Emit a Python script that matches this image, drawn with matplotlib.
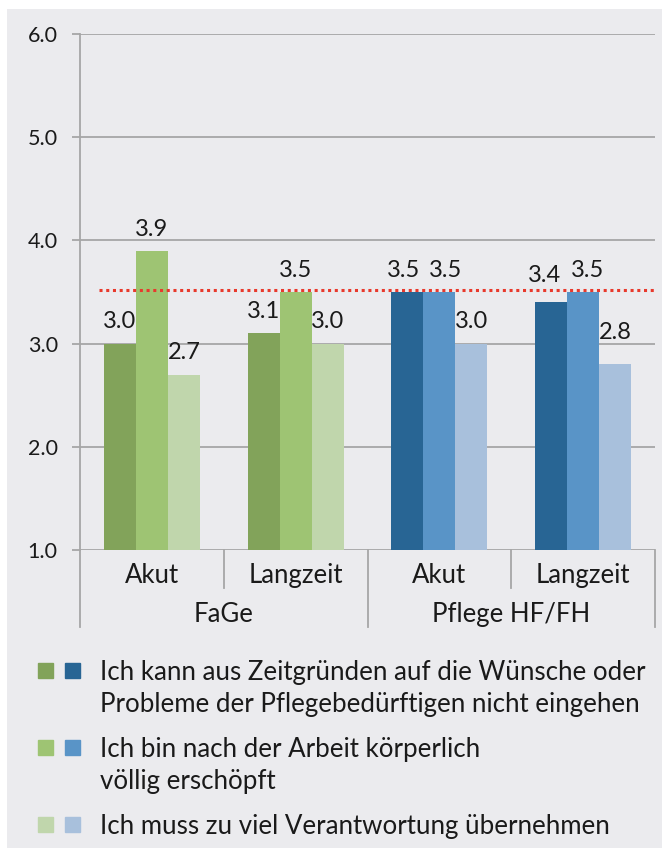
import matplotlib
matplotlib.use("Agg")
import matplotlib.pyplot as plt
from matplotlib.patches import Rectangle
import numpy as np

plt.rcParams['font.family'] = ['Lato', 'DejaVu Sans']

categories = ['Akut', 'Langzeit', 'Akut', 'Langzeit']
groups = ['FaGe', 'Pflege HF/FH']
zeit = [3.0, 3.1, 3.5, 3.4]
erschoepft = [3.9, 3.5, 3.5, 3.5]
verantwortung = [2.7, 3.0, 3.0, 2.8]
reference_line = 3.52

legend_labels = [
    ['Ich kann aus Zeitgründen auf die Wünsche oder',
     'Probleme der Pflegebedürftigen nicht eingehen'],
    ['Ich bin nach der Arbeit körperlich', 'völlig erschöpft'],
    ['Ich muss zu viel Verantwortung übernehmen'],
]

greens = ['#82a35a', '#9ec473', '#c0d6ac']
blues = ['#286594', '#5994c7', '#a8c0dc']
text_col = '#1a1a1a'
grid_col = '#a6a6a6'

# hand-placed value labels (series, category) -> (dx, dy) in pixels
label_nudge = {(0, 2): (-4, 0), (1, 2): (6, 0),
               (0, 3): (-7, 5), (1, 3): (4, 0), (2, 3): (0, 10)}

W, H = 662, 856
fig = plt.figure(figsize=(W / 100, H / 100), dpi=100)
fig.patch.set_facecolor('white')
fig.patches.append(Rectangle((7 / W, 8 / H), (W - 7) / W, (H - 17) / H,
                             transform=fig.transFigure, facecolor='#ebebee',
                             edgecolor='none', zorder=-10))

ax = fig.add_axes([80 / W, (H - 550) / H, 575 / W, 516 / H])
ax.set_facecolor('none')

x = np.arange(len(categories))
bw = 0.2226
series = [zeit, erschoepft, verantwortung]
for i, vals in enumerate(series):
    cols = [greens[i]] * 2 + [blues[i]] * 2
    ax.bar(x + (i - 1) * bw, vals, width=bw, bottom=0, color=cols, zorder=3)
    for j, (xi, v) in enumerate(zip(x + (i - 1) * bw, vals)):
        dx, dy = label_nudge.get((i, j), (0, 0))
        ax.annotate(f'{v:.1f}', (xi, v), xytext=(dx * 0.72, 8 + dy * 0.72),
                    textcoords='offset points', ha='center', va='bottom',
                    fontsize=17, color=text_col, zorder=5)

ax.plot([-0.37, 3.5], [reference_line] * 2, linestyle=(0, (1, 1.2)), color='#e8392c',
        linewidth=2.2, zorder=4)

ax.set_xlim(-0.5, 3.5)
ax.set_ylim(1, 6)
ax.set_yticks([1, 2, 3, 4, 5, 6])
ax.set_yticklabels([f'{t:.1f}' for t in range(1, 7)], fontsize=15.5, color=text_col)
ax.yaxis.grid(True, color=grid_col, linewidth=1.3, zorder=0)
ax.tick_params(axis='y', length=6, width=1.3, color=grid_col, pad=10)
ax.tick_params(axis='x', length=0, labelbottom=False)
for s in ['top', 'right', 'bottom']:
    ax.spines[s].set_visible(False)
ax.spines['left'].set_color(grid_col)
ax.spines['left'].set_linewidth(1.3)
ax.spines['left'].set_bounds(1, 6)

tr = ax.get_xaxis_transform()
# separators under the axis
for xs, low in zip([-0.5, 0.5, 1.5, 2.5, 3.5], [-0.149, -0.074, -0.149, -0.074, -0.149]):
    ax.plot([xs, xs], [0, low], color=grid_col, linewidth=1.3, transform=tr, clip_on=False)
for xi, c in zip(x, categories):
    ax.text(xi, -0.05, c, transform=tr, ha='center', va='center', fontsize=18.5, color=text_col)
for gi, g in enumerate(groups):
    ax.text(0.5 + 2 * gi, -0.125, g, transform=tr, ha='center', va='center',
            fontsize=18.5, color=text_col)

# legend
row_tops = [670, 747, 824]
line_gap = 32
for r, (lines, yy) in enumerate(zip(legend_labels, row_tops)):
    fig.patches.append(Rectangle((38 / W, (H - yy - 7.5) / H), 15 / W, 15 / H,
                                 transform=fig.transFigure, color=greens[r]))
    fig.patches.append(Rectangle((65 / W, (H - yy - 7.5) / H), 15 / W, 15 / H,
                                 transform=fig.transFigure, color=blues[r]))
    for k, line in enumerate(lines):
        fig.text(100 / W, (H - yy - k * line_gap) / H, line, ha='left', va='center_baseline',
                 fontsize=18.6, color=text_col)

fig.savefig('out.png', dpi=100)
